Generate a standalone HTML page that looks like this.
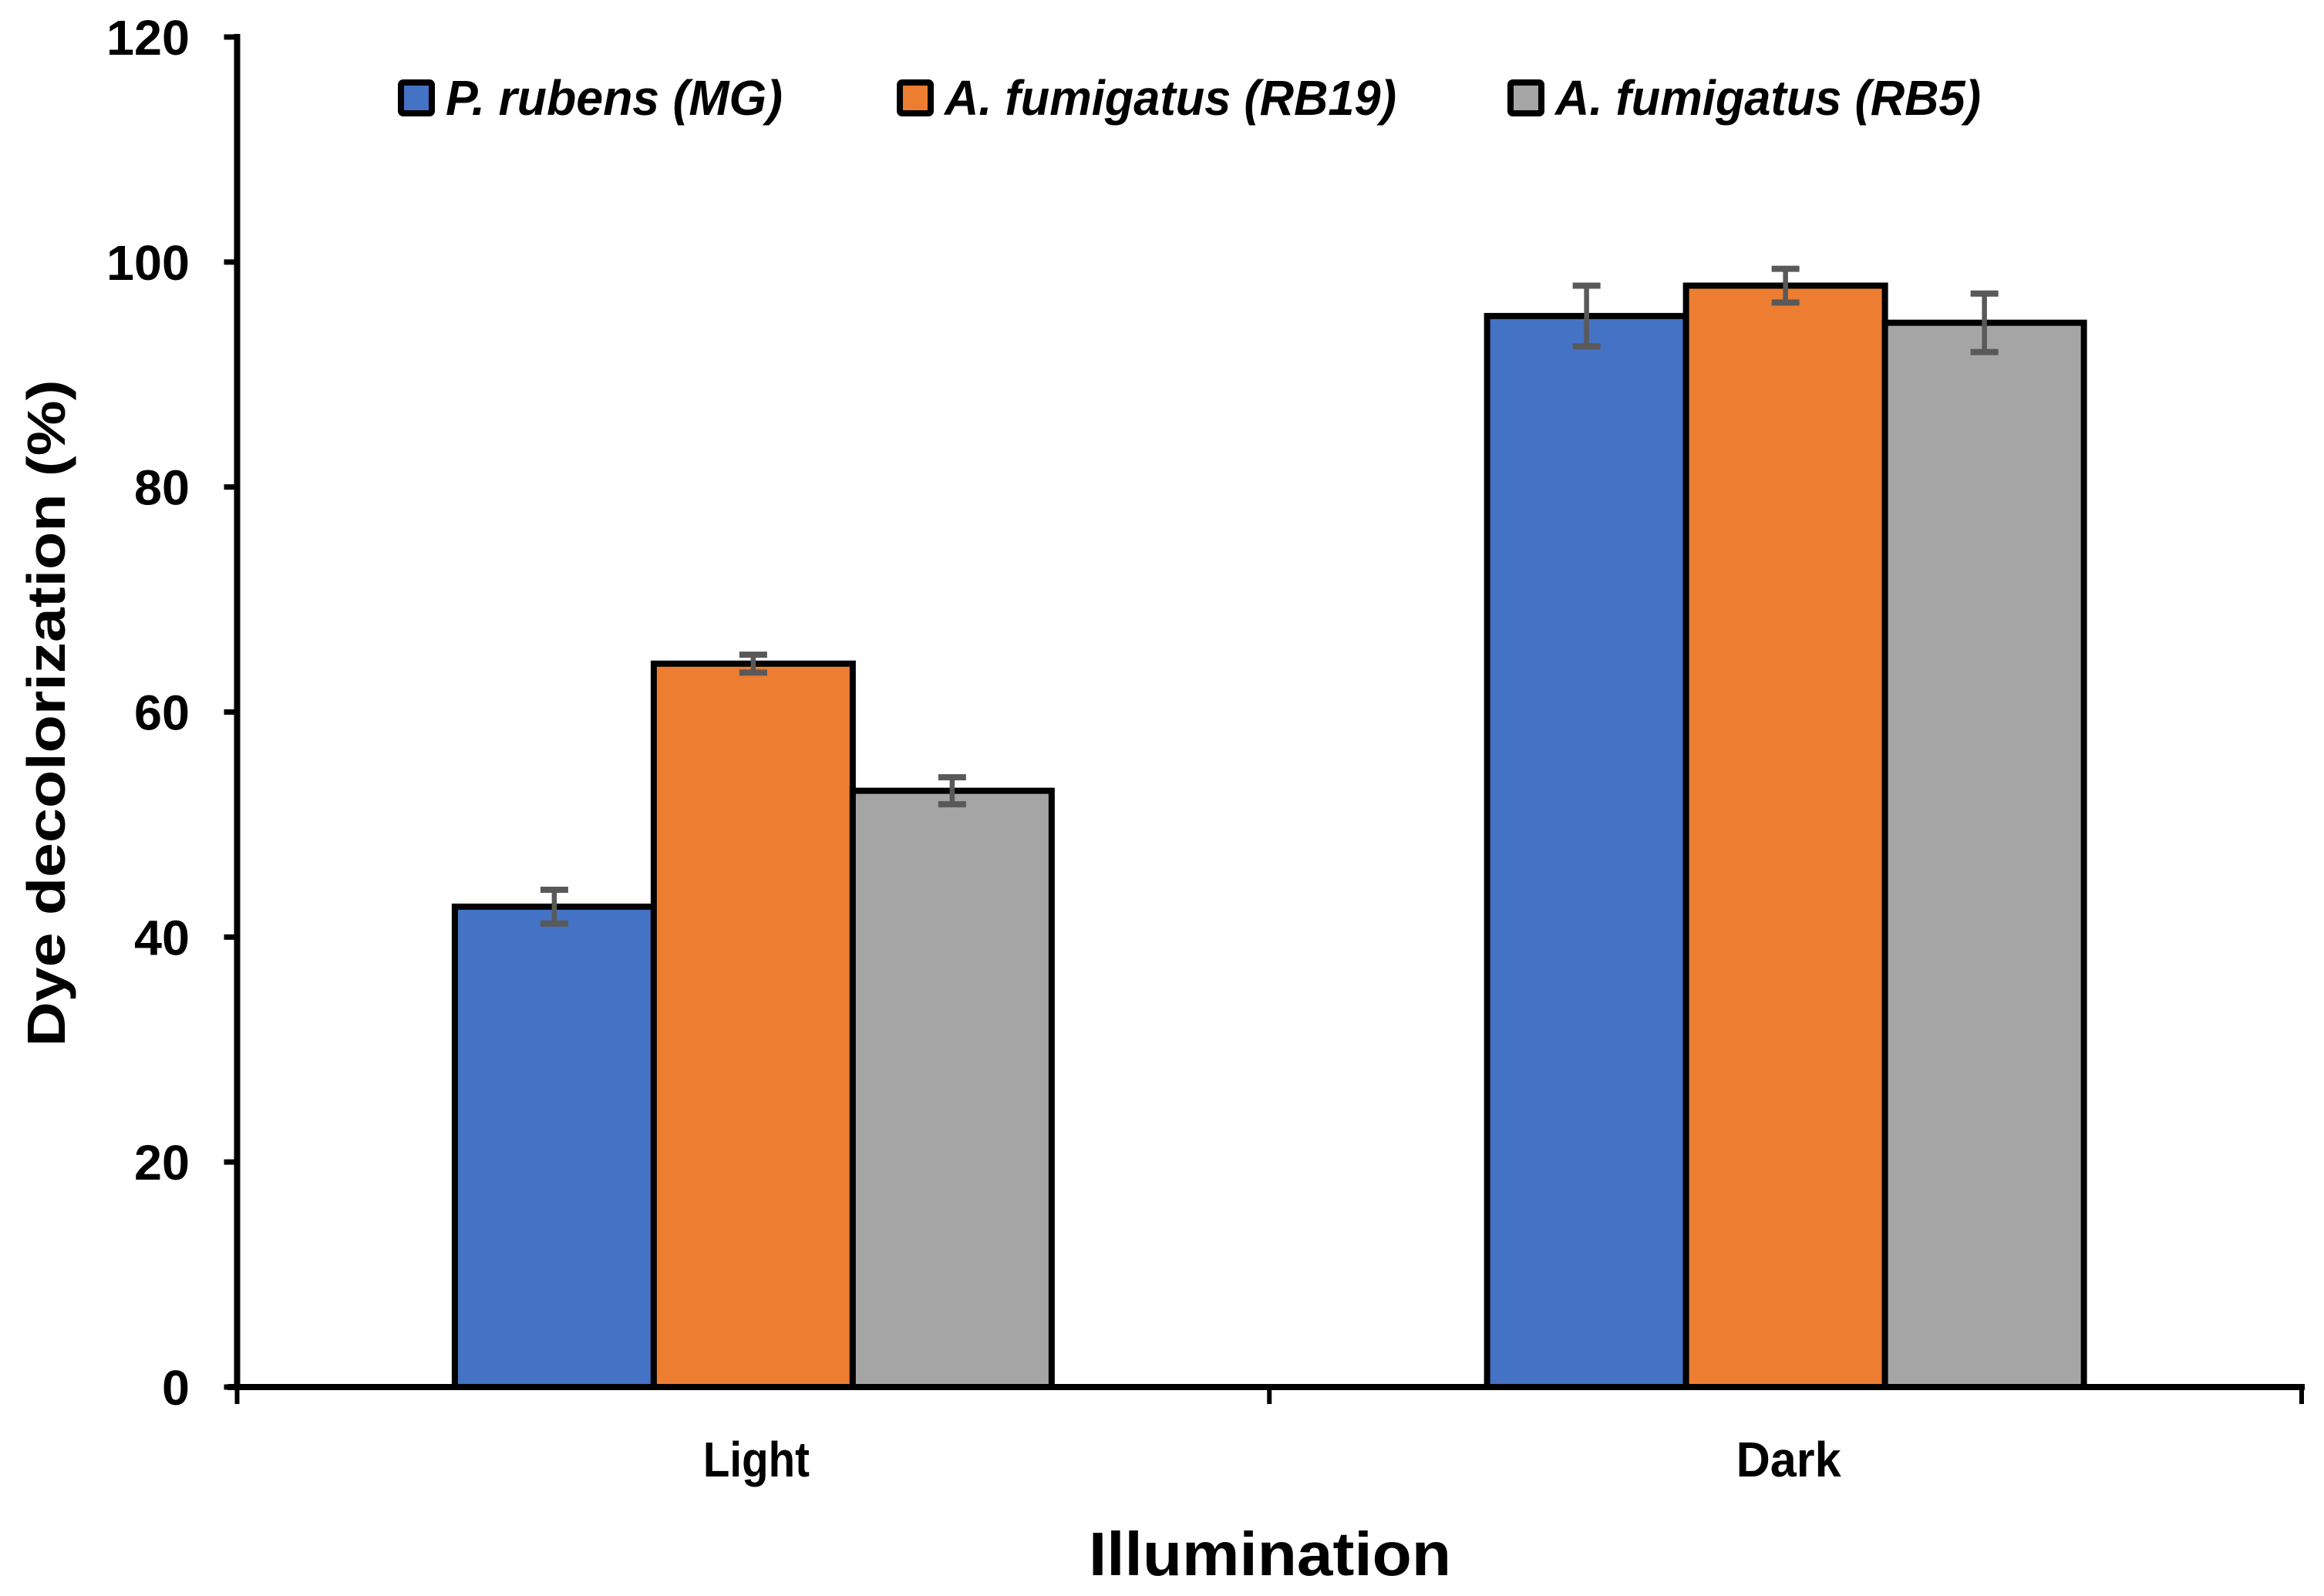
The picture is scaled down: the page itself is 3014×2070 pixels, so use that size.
<!DOCTYPE html>
<html><head><meta charset="utf-8"><style>
html,body{margin:0;padding:0;background:#fff;}
svg{display:block;}
text{font-family:"Liberation Sans",sans-serif;font-weight:bold;fill:#000;}
</style></head><body>
<svg id="chart" width="3014" height="2070" viewBox="0 0 3014 2070" xmlns="http://www.w3.org/2000/svg">
<g id="plot"></g>
<g id="axes"></g>
<g id="legend"></g>
</svg>
<script>
const categories = ["Light", "Dark"];
const seriesNames = ["P. rubens (MG)", "A. fumigatus (RB19)", "A. fumigatus (RB5)"];
const seriesColors = ["#4472C4", "#ED7D31", "#A5A5A5"];
const valuesMG = [42.7, 95.2];
const valuesRB19 = [64.3, 97.9];
const valuesRB5 = [53.0, 94.6];
const errMG = [1.5, 2.7];
const errRB19 = [0.8, 1.5];
const errRB5 = [1.2, 2.6];
const yTicks = [0, 20, 40, 60, 80, 100, 120];

const NS = "http://www.w3.org/2000/svg";
const X0 = 307.5, X1 = 2985, Y0 = 1799, Y1 = 48, YMAX = 120;
const yScale = v => Y0 - (v / YMAX) * (Y0 - Y1);
const catW = (X1 - X0) / categories.length;
const barW = 258;
const xBar = (ci, si) => X0 + catW * (ci + 0.5) - barW * 1.5 + barW * si;

function mk(tag, attrs, parent, txt) {
  const el = document.createElementNS(NS, tag);
  for (const k in attrs) el.setAttribute(k, attrs[k]);
  if (txt !== undefined) el.textContent = txt;
  parent.appendChild(el);
  return el;
}
const plot = document.getElementById("plot");
const axes = document.getElementById("axes");
const legend = document.getElementById("legend");
const allVals = [valuesMG, valuesRB19, valuesRB5];
const allErr = [errMG, errRB19, errRB5];

allVals.forEach((vals, si) => {
  vals.forEach((v, ci) => {
    const r = mk("rect", {x: xBar(ci, si), y: yScale(v), width: barW, height: Y0 - yScale(v), fill: seriesColors[si], stroke: "#000", "stroke-width": 8}, plot);
    
    
  });
});
allErr.forEach((errs, si) => {
  errs.forEach((e, ci) => {
    const cx = xBar(ci, si) + barW / 2;
    const v = allVals[si][ci];
    const g = mk("g", {stroke: "#595959", "stroke-width": 6.5}, plot);
    
    
    mk("line", {x1: cx, x2: cx, y1: yScale(v + e), y2: yScale(v - e)}, g);
    mk("line", {x1: cx - 18, x2: cx + 18, y1: yScale(v + e), y2: yScale(v + e), "stroke-width": 8}, g);
    mk("line", {x1: cx - 18, x2: cx + 18, y1: yScale(v - e), y2: yScale(v - e), "stroke-width": 8}, g);
  });
});

const ya = mk("line", {x1: X0, x2: X0, y1: Y1 - 4, y2: Y0 + 4, stroke: "#000", "stroke-width": 8}, axes);


const xa = mk("line", {x1: X0 - 12, x2: X1 + 4, y1: Y0, y2: Y0, stroke: "#000", "stroke-width": 8}, axes);


yTicks.forEach(t => {
  mk("line", {x1: X0 - 17, x2: X0, y1: yScale(t), y2: yScale(t), stroke: "#000", "stroke-width": 7}, axes);
  const s = String(t);
  const lab = mk("text", {x: 246, y: yScale(t) + 23, "text-anchor": "end", "font-size": 64, textLength: 36 * s.length, lengthAdjust: "spacingAndGlyphs"}, axes, s);
  
  
});
for (let i = 0; i <= categories.length; i++) {
  const x = X0 + catW * i;
  mk("line", {x1: x, x2: x, y1: Y0, y2: Y0 + 22, stroke: "#000", "stroke-width": 6}, axes);
}
const catLabW = [138, 136];
categories.forEach((c, ci) => {
  const lab = mk("text", {x: X0 + catW * (ci + 0.5) + 4, y: 1915, "text-anchor": "middle", "font-size": 64, textLength: catLabW[ci], lengthAdjust: "spacingAndGlyphs"}, axes, c);
  
  
});
const xt = mk("text", {x: 1647, y: 2043, "text-anchor": "middle", "font-size": 80, textLength: 470, lengthAdjust: "spacingAndGlyphs"}, axes, "Illumination");


const yt = mk("text", {x: 0, y: 0, "text-anchor": "middle", "font-size": 70, textLength: 865, lengthAdjust: "spacingAndGlyphs", transform: "translate(84,925) rotate(-90)"}, axes, "Dye decolorization (%)");



const legBoxX = [516, 1163, 1955];
const legTextW = [437, 586, 552];
seriesNames.forEach((n, si) => {
  const g = mk("g", {}, legend);
  
  
  mk("rect", {x: legBoxX[si] + 4, y: 107, width: 40, height: 40, fill: seriesColors[si], stroke: "#000", "stroke-width": 8, rx: 3}, g);
  mk("text", {x: legBoxX[si] + 62, y: 149, "font-size": 64, "font-style": "italic", textLength: legTextW[si], lengthAdjust: "spacingAndGlyphs"}, g, n);
});
</script>
</body></html>
